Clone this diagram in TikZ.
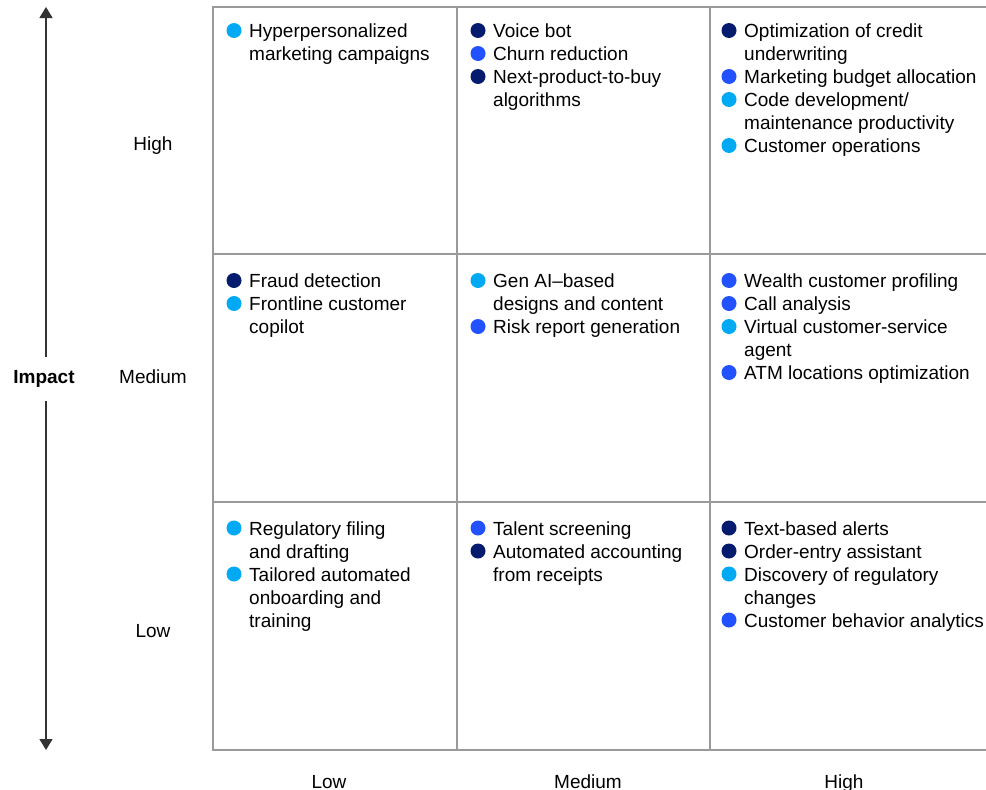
\documentclass[tikz,border=0pt]{standalone}
\usepackage{fontspec}
\setmainfont{Liberation Sans}
\usetikzlibrary{arrows.meta}
\definecolor{navy}{HTML}{051C6E}
\definecolor{electric}{HTML}{2251FF}
\definecolor{sky}{HTML}{00A9F4}
\definecolor{gridline}{HTML}{9A9A9A}
\definecolor{axis}{HTML}{333333}

% one use case: name, x, baseline y of first line, bullet colour, text
\newcommand{\usecase}[5]{%
  \node[item] (#1) at (#2,#3) {\begin{tabular}[t]{@{}l@{}}#5\end{tabular}};
  \node[bullet=#4] (#1-dot) at ([shift={(-15,-7)}]#1.base west) {};}

\begin{document}
\begin{tikzpicture}[x=1pt, y=-1pt,
  item/.style={anchor=base west, inner sep=0pt, font=\fontsize{19}{23}\selectfont},
  bullet/.style={circle, fill=#1, minimum size=15pt, inner sep=0pt},
  scorelabel/.style={anchor=base, inner sep=0pt, font=\fontsize{19}{23}\selectfont},
  gridrule/.style={gridline, line width=1.1pt},
  axisarrow/.style={-{Triangle[length=11pt, width=13pt]}, axis, line width=1.4pt}
]
  \useasboundingbox (0,0) rectangle (986,790);

  % quadrant grid
  \draw[gridrule] (986,7) -- (213,7) -- (213,750) -- (986,750);
  \draw[gridrule] (213,254) -- (986,254) (213,502) -- (986,502);
  \draw[gridrule] (457,7) -- (457,750) (710,7) -- (710,750);

  % impact axis
  \node[font=\fontsize{19}{23}\selectfont\bfseries, anchor=base, inner xsep=0pt, inner ysep=13pt] (impact) at (44,383.7) {Impact};
  \coordinate (hi) at (46,7);
  \coordinate (lo) at (46,750);
  \draw[axisarrow] (impact.north -| hi) -- (hi);
  \draw[axisarrow] (impact.south -| lo) -- (lo);

  \node[scorelabel] (rowhigh) at (153,150.7) {High};
  \node[scorelabel] (rowmed)  at (153,383.7) {Medium};
  \node[scorelabel] (rowlow)  at (153,637)   {Low};

  \node[scorelabel] (collow)  at (329,788) {Low};
  \node[scorelabel] (colmed)  at (588,788) {Medium};
  \node[scorelabel] (colhigh) at (844,788) {High};

  % high impact
  \usecase{hyper}{249}{37.5}{sky}{Hyperpersonalized\\marketing campaigns}
  \usecase{voice}{493}{37.5}{navy}{Voice bot}
  \usecase{churn}{493}{60.5}{electric}{Churn reduction}
  \usecase{nptb}{493}{83.5}{navy}{Next-product-to-buy\\algorithms}
  \usecase{credit}{744}{37.5}{navy}{Optimization of credit\\underwriting}
  \usecase{budget}{744}{83.5}{electric}{Marketing budget allocation}
  \usecase{code}{744}{106.5}{sky}{Code development/\\maintenance productivity}
  \usecase{custops}{744}{152.5}{sky}{Customer operations}

  % medium impact
  \usecase{fraud}{249}{287.5}{navy}{Fraud detection}
  \usecase{copilot}{249}{310.5}{sky}{Frontline customer\\copilot}
  \usecase{genai}{493}{287.5}{sky}{Gen AI–based\\designs and content}
  \usecase{risk}{493}{333.5}{electric}{Risk report generation}
  \usecase{wealth}{744}{287.5}{electric}{Wealth customer profiling}
  \usecase{call}{744}{310.5}{electric}{Call analysis}
  \usecase{virtual}{744}{333.5}{sky}{Virtual customer-service\\agent}
  \usecase{atm}{744}{379.5}{electric}{ATM locations optimization}

  % low impact
  \usecase{filing}{249}{535}{sky}{Regulatory filing\\and drafting}
  \usecase{onboard}{249}{581}{sky}{Tailored automated\\onboarding and\\training}
  \usecase{talent}{493}{535}{electric}{Talent screening}
  \usecase{receipts}{493}{558}{navy}{Automated accounting\\from receipts}
  \usecase{alerts}{744}{535}{navy}{Text-based alerts}
  \usecase{orders}{744}{558}{navy}{Order-entry assistant}
  \usecase{regchange}{744}{581}{sky}{Discovery of regulatory\\changes}
  \usecase{behavior}{744}{627}{electric}{Customer behavior analytics}
\end{tikzpicture}
\end{document}
